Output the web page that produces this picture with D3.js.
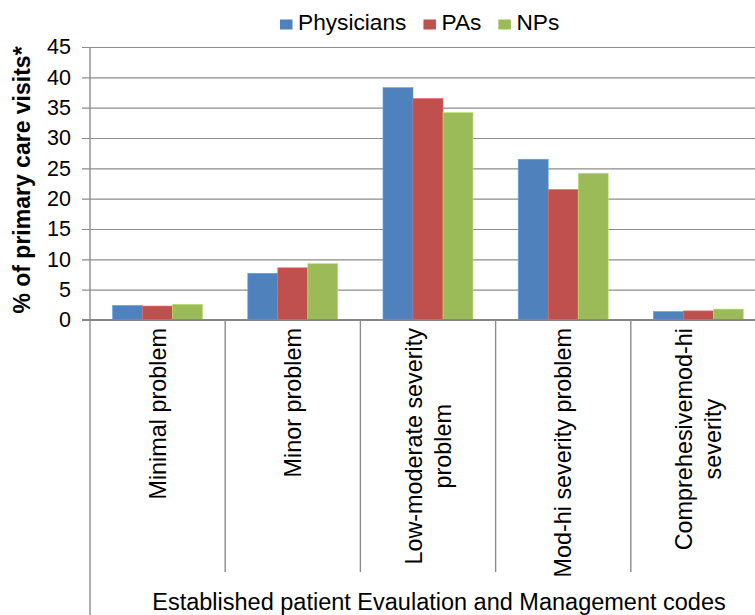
<!DOCTYPE html>
<html>
<head>
<meta charset="utf-8">
<script src="https://cdn.jsdelivr.net/npm/d3@7"></script>
<style>
  html, body { margin: 0; padding: 0; background: #fff; }
  svg { display: block; font-family: "Liberation Sans", Arial, Helvetica, sans-serif; }
</style>
</head>
<body>
<svg id="chart" width="755" height="615"></svg>
<script>
// ---- data ----
const categories = [
  ["Minimal problem"],
  ["Minor problem"],
  ["Low-moderate severity", "problem"],
  ["Mod-hi severity problem"],
  ["Comprehesivemod-hi", "severity"]
];
const seriesNames = ["Physicians", "PAs", "NPs"];
const physicians = [2.4, 7.7, 38.3, 26.5, 1.4];
const pas        = [2.3, 8.6, 36.5, 21.5, 1.5];
const nps        = [2.6, 9.3, 34.2, 24.2, 1.8];
const yTicks = [0, 5, 10, 15, 20, 25, 30, 35, 40, 45];
const colors = ["#4F81BD", "#C0504D", "#9BBB59"];
const yTitle = "% of primary care visits*";
const xTitle = "Established patient Evaulation and Management codes";

// ---- layout ----
const svg = d3.select("#chart");
const plot = { left: 90, right: 766, top: 47, bottom: 320 };
const catKeys = categories.map(c => c.join(" "));
const seriesValues = [physicians, pas, nps];

const x0 = d3.scaleBand().domain(catKeys).range([plot.left, plot.right]).paddingInner(0).paddingOuter(0);
const x1 = d3.scaleBand().domain(seriesNames).range([0, x0.bandwidth()]).paddingInner(0).paddingOuter(0.753);
const y = d3.scaleLinear().domain([0, 45]).range([plot.bottom, plot.top]);

const gridColor = "#8c8c8c";

// gridlines + tick marks
const yAxis = d3.axisLeft(y).tickValues(yTicks).tickSize(0).tickPadding(19);
const gy = svg.append("g").attr("transform", `translate(${plot.left},0)`).call(yAxis);
gy.select(".domain").remove();
gy.selectAll(".tick text")
  .attr("font-size", 21.5)
  .attr("fill", "#000")
  .attr("font-family", '"Liberation Sans", Arial, sans-serif');
gy.selectAll(".tick").append("line")
  .attr("x1", -8).attr("x2", plot.right - plot.left)
  .attr("stroke", gridColor).attr("stroke-width", 1.2);

// bars
const data = [];
catKeys.forEach((c, i) => seriesNames.forEach((s, j) => data.push({ c, s, j, v: seriesValues[j][i] })));
svg.append("g").selectAll("rect").data(data).join("rect")
  .attr("x", d => x0(d.c) + x1(d.s))
  .attr("width", x1.bandwidth())
  .attr("y", d => y(d.v))
  .attr("height", d => y(0) - y(d.v))
  .attr("fill", d => colors[d.j])
  .attr("stroke", d => d3.color(colors[d.j]).brighter(0.6))
  .attr("stroke-width", 0.6);

// axis lines
svg.append("line")
  .attr("x1", plot.left - 8).attr("x2", plot.right)
  .attr("y1", y(0)).attr("y2", y(0))
  .attr("stroke", "#868686").attr("stroke-width", 2);
svg.append("line")
  .attr("x1", plot.left).attr("x2", plot.left)
  .attr("y1", plot.top).attr("y2", 615)
  .attr("stroke", "#8c8c8c").attr("stroke-width", 1.4);

// category dividers
const dividers = catKeys.slice(1).map(c => x0(c)).concat([plot.right]);
svg.append("g").selectAll("line").data(dividers).join("line")
  .attr("x1", d => d).attr("x2", d => d)
  .attr("y1", y(0)).attr("y2", 572)
  .attr("stroke", "#8c8c8c").attr("stroke-width", 1.4);

// category labels (rotated, top aligned, lines centered)
const catFont = 23.4, lineGap = 29, labelTop = 328;
categories.forEach((lines, i) => {
  const cx = x0(catKeys[i]) + x0.bandwidth() / 2;
  const g = svg.append("g");
  const texts = lines.map((t, k) => g.append("text")
    .attr("font-size", catFont).attr("fill", "#000").text(t));
  const maxW = d3.max(texts, t => t.node().getComputedTextLength());
  const midY = labelTop + maxW / 2;
  const n = lines.length;
  texts.forEach((t, k) => {
    const off = (k - (n - 1) / 2) * lineGap;
    t.attr("text-anchor", "middle")
     .attr("transform", `translate(${cx + off},${midY}) rotate(-90)`)
     .attr("dy", "0.35em");
  });
});

// y title
svg.append("text")
  .attr("transform", `translate(30,180) rotate(-90)`)
  .attr("text-anchor", "middle")
  .attr("font-size", 23).attr("font-weight", "bold").attr("fill", "#000")
  .text(yTitle);

// x title
svg.append("text")
  .attr("x", 439).attr("y", 610)
  .attr("text-anchor", "middle")
  .attr("font-size", 23.5).attr("fill", "#000")
  .text(xTitle);

// legend
const legend = svg.append("g");
let lx = 280;
seriesNames.forEach((s, j) => {
  legend.append("rect").attr("x", lx).attr("y", 19.5).attr("width", 12.5).attr("height", 10).attr("fill", colors[j]);
  const t = legend.append("text").attr("x", lx + 18).attr("y", 29.5)
    .attr("font-size", 22.7).attr("fill", "#000").text(s);
  lx += 18 + t.node().getComputedTextLength() + 17;
});
</script>
</body>
</html>
